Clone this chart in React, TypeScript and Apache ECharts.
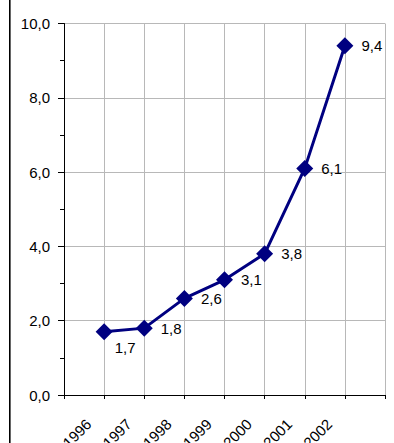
import React, { useEffect, useRef } from "react";
import * as echarts from "echarts";

const years: number[] = [1996, 1997, 1998, 1999, 2000, 2001, 2002];
const values: number[] = [1.7, 1.8, 2.6, 3.1, 3.8, 6.1, 9.4];
const yTicks: number[] = [0, 2, 4, 6, 8, 10];

const FONT = "Arial, 'Liberation Sans', sans-serif";
const fmt = (v: number) => v.toFixed(1).replace(".", ",");

export default function App() {
  const ref = useRef<HTMLDivElement>(null);
  useEffect(() => {
    if (!ref.current) return;
    const chart = echarts.init(ref.current, null, { renderer: "svg" });
    const data = years.map((y, i) => {
      const item: any = { value: [y, values[i]] };
      if (i === 0) item.label = { offset: [-6, 16] };
      return item;
    });
    chart.setOption({
      animation: false,
      backgroundColor: "#ffffff",
      graphic: [
        {
          type: "rect",
          shape: { x: 9, y: 0, width: 1.6, height: 443 },
          style: { fill: "#000000" },
          silent: true,
        },
      ],
      grid: {
        left: 64,
        right: 9,
        top: 23.5,
        bottom: 48,
        containLabel: false,
        outerBoundsMode: "none",
      },
      xAxis: {
        type: "value",
        min: years[0] - 1,
        max: years[years.length - 1] + 1,
        interval: 1,
        axisLine: { show: true, onZero: false, lineStyle: { color: "#000", width: 1 } },
        axisTick: { show: true, length: 4, lineStyle: { color: "#000" } },
        splitLine: { show: true, lineStyle: { color: "#b8b8b8", width: 1 } },
        axisLabel: {
          rotate: 45,
          margin: 11,
          padding: [0, 22, 0, 0],
          fontSize: 15,
          fontFamily: FONT,
          color: "#000",
          showMinLabel: true,
          showMaxLabel: true,
          hideOverlap: false,
          formatter: (v: number) => (years.indexOf(v) >= 0 ? String(v) : ""),
        },
      },
      yAxis: {
        type: "value",
        min: yTicks[0],
        max: yTicks[yTicks.length - 1],
        interval: 2,
        axisLine: { show: true, lineStyle: { color: "#000", width: 1 } },
        axisTick: { show: true, length: 6, lineStyle: { color: "#000" } },
        minorTick: { show: true, splitNumber: 2, length: 4, lineStyle: { color: "#000" } },
        splitLine: { show: true, lineStyle: { color: "#b8b8b8", width: 1 } },
        axisLabel: {
          margin: 14,
          fontSize: 15,
          fontFamily: FONT,
          color: "#000",
          formatter: (v: number) => fmt(v),
        },
      },
      series: [
        {
          type: "line",
          data,
          symbol: "diamond",
          symbolSize: 17,
          itemStyle: { color: "#000080" },
          lineStyle: { color: "#000080", width: 3 },
          label: {
            show: true,
            position: "right",
            distance: 8,
            fontSize: 15,
            fontFamily: FONT,
            color: "#000",
            formatter: (p: any) => fmt(p.value[1]),
          },
        },
      ],
    });
    return () => chart.dispose();
  }, []);
  return (
    <div
      ref={ref}
      style={{ position: "fixed", left: 0, top: 0, width: 394, height: 443 }}
    />
  );
}
